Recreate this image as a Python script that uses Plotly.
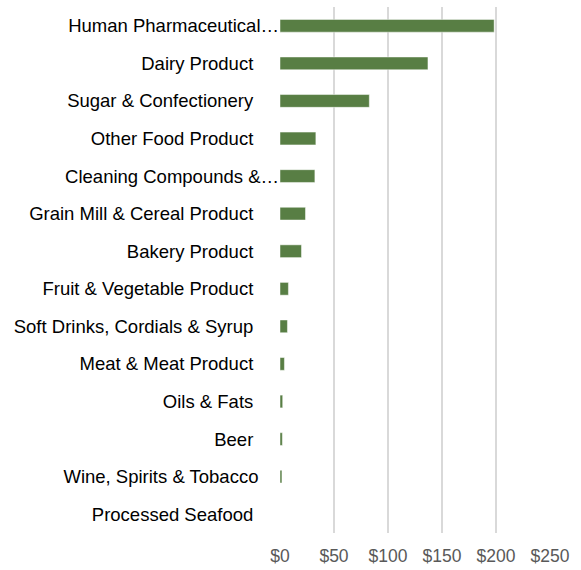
import plotly.graph_objects as go

categories = [
    "Human Pharmaceutical…",
    "Dairy Product",
    "Sugar & Confectionery",
    "Other Food Product",
    "Cleaning Compounds &…",
    "Grain Mill & Cereal Product",
    "Bakery Product",
    "Fruit & Vegetable Product",
    "Soft Drinks, Cordials & Syrup",
    "Meat & Meat Product",
    "Oils & Fats",
    "Beer",
    "Wine, Spirits & Tobacco",
    "Processed Seafood",
]
values = [198.3, 137.0, 82.7, 33.2, 32.3, 23.6, 19.9, 7.8, 6.9, 4.1, 2.5, 2.2, 1.8, 0.0]
tick_values = [0, 50, 100, 150, 200, 250]
tick_labels = ["$0", "$50", "$100", "$150", "$200", "$250"]

NB = "\u00a0"
pad = {"Human Pharmaceutical…": 0, "Cleaning Compounds &…": 0, "Wine, Spirits & Tobacco": 4}
label_text = [c + NB * pad.get(c, 5) for c in categories]

fig = go.Figure(
    go.Bar(
        x=values,
        y=categories,
        orientation="h",
        marker=dict(color="#587e44", line=dict(color="rgba(255,255,255,0.6)", width=0.8)),
        width=0.34,
    )
)

fig.update_layout(
    width=581,
    height=570,
    margin=dict(l=280, r=31, t=7, b=37),
    paper_bgcolor="white",
    plot_bgcolor="white",
    showlegend=False,
    font=dict(family="Liberation Sans, Arial, sans-serif", size=18, color="#000000"),
)
fig.update_xaxes(
    range=[0, 250],
    tickvals=tick_values,
    ticktext=tick_labels,
    showgrid=True,
    gridcolor="#d9d9d9",
    gridwidth=1.5,
    zeroline=False,
    showline=False,
    ticks="",
    automargin=False,
    ticklabelstandoff=10,
    tickfont=dict(size=17.5, color="#595959"),
)
fig.update_yaxes(
    autorange="reversed",
    tickvals=categories,
    ticktext=label_text,
    showgrid=False,
    showline=False,
    zeroline=False,
    ticks="",
    automargin=False,
    ticklabelstandoff=0,
    tickfont=dict(size=18.5, color="#000000"),
)

fig.write_html(
    "out.html",
    config={"displayModeBar": False},
    post_script="document.body.style.margin='0';document.body.style.overflow='hidden';",
)
